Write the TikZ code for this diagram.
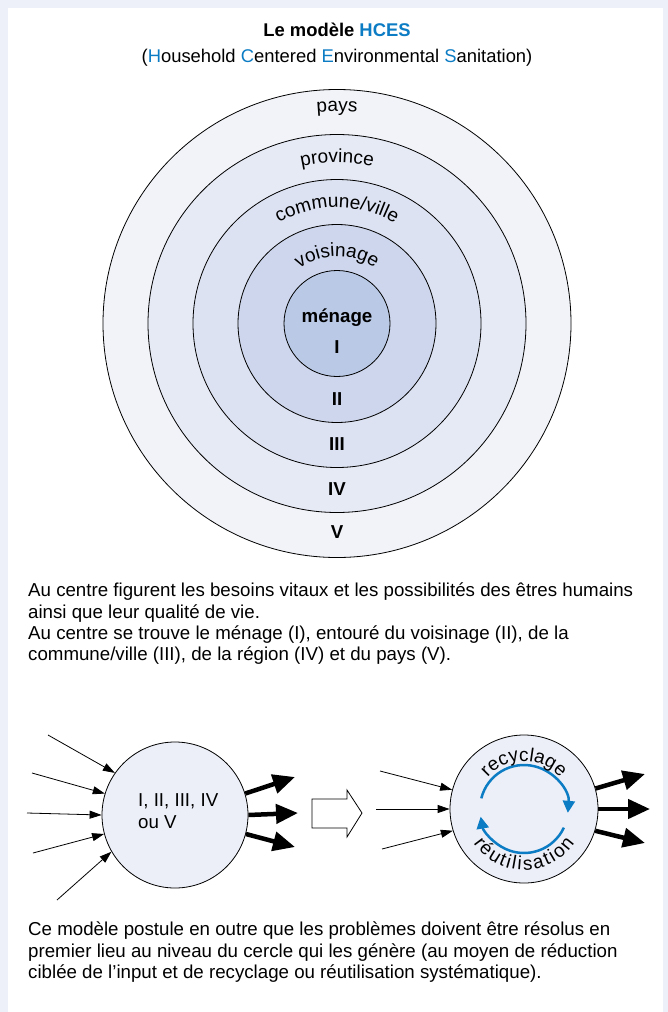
\documentclass[tikz,border=0pt]{standalone}
\usepackage{fontspec}
\setmainfont{Liberation Sans}
\usetikzlibrary{arrows.meta,decorations.text,positioning}

\definecolor{pagebg}{HTML}{EDF0F8}
\definecolor{hcesblue}{HTML}{0C7CC4}
\definecolor{ringV}{HTML}{F1F3F9}
\definecolor{ringIV}{HTML}{E6EAF5}
\definecolor{ringIII}{HTML}{DCE2F1}
\definecolor{ringII}{HTML}{CDD6EC}
\definecolor{ringI}{HTML}{B9C9E6}
\definecolor{levelfill}{HTML}{ECEFF8}

\newcommand{\txtsize}{\fontsize{18.7}{21.3}\selectfont}
\newcommand{\arcsize}{\fontsize{19}{22}\selectfont}
\newcommand{\hc}[1]{\textcolor{hcesblue}{#1}}

\begin{document}
\begin{tikzpicture}[x=1pt, y=-1pt,
    ring/.style={circle, draw, line width=0.8pt, inner sep=0pt},
    inarrow/.style={-{Triangle[length=12pt,width=8pt]}, line width=0.8pt},
    outarrow/.style={-{Triangle[length=22pt,width=19pt]}, line width=4.5pt},
    cyclearrow/.style={-{Triangle[length=12pt,width=12pt]}, line width=2.5pt, hcesblue},
    arclabel/.style={decorate, decoration={text along path, text align=center, text={|\arcsize|#1}}},
    fitlabel/.style={decorate, decoration={text along path, text align=fit to path, text={|\arcsize|#1}}},
    numeral/.style={font=\txtsize\bfseries}
  ]
    % Page and white panel
    \useasboundingbox (0,0) rectangle (668,1012);
    \fill[pagebg] (0,0) rectangle (668,1012);
    \fill[white] (8,8) rectangle (663,1012);

    % Title
    \node[font=\fontsize{18.4}{22}\selectfont\bfseries] (title) at (337,30) {Le modèle \hc{HCES}};
    \node[font=\fontsize{18.4}{22}\selectfont] (subtitle) at (337,58)
      {(\hc{H}ousehold \hc{C}entered \hc{E}nvironmental \hc{S}anitation)};

    % Concentric rings
    \coordinate (ctr) at (337,323.5);
    \node[ring, fill=ringV, minimum size=468pt] (pays) at (ctr) {};
    \node[ring, fill=ringIV, minimum size=378pt] (province) at (ctr) {};
    \node[ring, fill=ringIII, minimum size=288pt] (commune) at (ctr) {};
    \node[ring, fill=ringII, minimum size=198pt] (voisinage) at (ctr) {};
    \node[ring, fill=ringI, minimum size=106pt] (menage) at (ctr) {};

    % Ring names along the arcs
    \path[arclabel=pays] (ctr) ++(180:212pt) arc[start angle=180, end angle=0, radius=212pt];
    \path[arclabel=province] (ctr) ++(180:161pt) arc[start angle=180, end angle=0, radius=161pt];
    \path[arclabel=commune/ville] (ctr) ++(180:116pt) arc[start angle=180, end angle=0, radius=116pt];
    \path[arclabel=voisinage] (ctr) ++(180:67pt) arc[start angle=180, end angle=0, radius=67pt];

    % Ring numbers
    \node[numeral] (menagename) at (337,318) {ménage};
    \node[numeral] (numI) at (337,347) {I};
    \node[numeral] (numII) at (337,399) {II};
    \node[numeral] (numIII) at (337,444) {III};
    \node[numeral] (numIV) at (337,489) {IV};
    \node[numeral] (numV) at (337,532) {V};

    % First text block
    \node[anchor=north west, align=left, inner sep=0pt, font=\txtsize] (para1) at (28,583)
      {Au centre figurent les besoins vitaux et les possibilités des êtres humains\\
       ainsi que leur qualité de vie.\\
       Au centre se trouve le ménage (I), entouré du voisinage (II), de la\\
       commune/ville (III), de la région (IV) et du pays (V).};

    % Left circle: level with inputs and outputs
    \node[ring, fill=levelfill, minimum size=146pt] (level) at (175,815) {};
    \node[anchor=west, align=left, inner sep=0pt, font=\txtsize] (levellabel) at (138,811)
      {I, II, III, IV\\ ou V};
    \coordinate (inA) at (48,735);
    \coordinate (inB) at (32,773);
    \coordinate (inC) at (27,813);
    \coordinate (inD) at (33,853);
    \coordinate (inE) at (57,900);
    \draw[inarrow] (inA) -- (level.145);
    \draw[inarrow] (inB) -- (level.163);
    \draw[inarrow] (inC) -- (level.180);
    \draw[inarrow] (inD) -- (level.195);
    \draw[inarrow] (inE) -- (level.210);
    \coordinate (outA) at (295,777);
    \coordinate (outB) at (298,813);
    \coordinate (outC) at (295,847);
    \draw[outarrow] (level.17) -- (outA);
    \draw[outarrow] (level.0) -- (outB);
    \draw[outarrow] (level.-15) -- (outC);

    % Hollow block arrow
    \draw[fill=white, line width=0.8pt] (312,799) -- (347,799) -- (347,790) -- (362,813)
      -- (347,837) -- (347,828) -- (312,828) -- cycle;

    % Right circle: recycling inside the level
    \node[ring, fill=levelfill, minimum size=148pt] (cycle) at (524,809) {};
    \coordinate (rinA) at (380,771);
    \coordinate (rinB) at (376,809);
    \coordinate (rinC) at (382,849);
    \draw[inarrow] (rinA) -- (cycle.165);
    \draw[inarrow] (rinB) -- (cycle.180);
    \draw[inarrow] (rinC) -- (cycle.197);
    \coordinate (routA) at (645,774);
    \coordinate (routB) at (650,809);
    \coordinate (routC) at (645,843);
    \draw[outarrow] (cycle.16) -- (routA);
    \draw[outarrow] (cycle.0) -- (routB);
    \draw[outarrow] (cycle.-17) -- (routC);

    \draw[cyclearrow] (cycle.center) ++(166:44pt) arc[start angle=166, end angle=-5, radius=44pt];
    \draw[cyclearrow] (cycle.center) ++(-25:44pt) arc[start angle=-25, end angle=-170, radius=44pt];
    \path[fitlabel=recyclage] (cycle.center) ++(139:48pt) arc[start angle=139, end angle=41, radius=48pt];
    \path[fitlabel=réutilisation] (cycle.center) ++(214:61pt) arc[start angle=214, end angle=326, radius=61pt];

    % Second text block
    \node[anchor=north west, align=left, inner sep=0pt, font=\txtsize] (para2) at (28,922)
      {Ce modèle postule en outre que les problèmes doivent être résolus en\\
       premier lieu au niveau du cercle qui les génère (au moyen de réduction\\
       ciblée de l’input et de recyclage ou réutilisation systématique).};
\end{tikzpicture}
\end{document}
